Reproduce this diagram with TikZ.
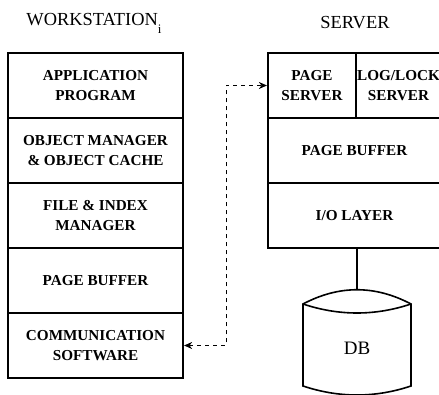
\documentclass[tikz,border=0pt]{standalone}
\usepackage{fontspec}
\setmainfont{Liberation Serif}
\usetikzlibrary{arrows.meta}

\begin{document}
\begin{tikzpicture}[x=0.5pt, y=-0.5pt,
    layer/.style={draw, line width=1.1pt, align=center, inner sep=0pt,
      minimum height=32.5pt, font=\fontsize{7.6}{9.7}\selectfont\bfseries},
    heading/.style={font=\fontsize{9.2}{10}\selectfont},
    link/.style={<->, >={Stealth[length=4pt, width=3.5pt]}, line width=0.5pt,
      dash pattern=on 2pt off 2pt},
    store/.style={line width=0.8pt}]
        \useasboundingbox (0,0) rectangle (439,395);
        \clip (0,0) rectangle (439,395);

        \node[heading] at (94, 23)  (wstitle)   {WORKSTATION\raisebox{-4pt}{\fontsize{6.5}{7}\selectfont i}};
        \node[heading] at (355, 23) (srvtitle)  {SERVER};

        \node[layer, minimum width=87.5pt] at (95.5, 85.5)  (app)    {APPLICATION\\PROGRAM};
        \node[layer, minimum width=87.5pt] at (95.5, 150.5) (objmgr) {OBJECT MANAGER\\\& OBJECT CACHE};
        \node[layer, minimum width=87.5pt] at (95.5, 215.5) (filemgr) {FILE \& INDEX\\MANAGER};
        \node[layer, minimum width=87.5pt] at (95.5, 280.5) (wsbuf)  {PAGE BUFFER};
        \node[layer, minimum width=87.5pt] at (95.5, 345.5) (comm)   {COMMUNICATION\\SOFTWARE};

        \node[layer, minimum width=44pt]   at (312, 85.5)   (pagesrv) {PAGE\\SERVER};
        \node[layer, minimum width=42.5pt] at (398.5, 85.5) (locksrv) {LOG/LOCK\\SERVER};
        \node[layer, minimum width=86.5pt] at (354.5, 150.5) (srvbuf) {PAGE BUFFER};
        \node[layer, minimum width=86.5pt] at (354.5, 215.5) (io)     {I/O LAYER};

        % database
        \coordinate (dbtop) at (357, 290);
        \draw[store] (303,304) .. controls (339,285) and (375,285) .. (411,304)
              -- (411,386) .. controls (375,398) and (339,398) .. (303,386) -- cycle;
        \draw[store] (303,304) .. controls (339,316) and (375,316) .. (411,304);
        \node[font=\fontsize{9.5}{10}\selectfont] at (357, 348) (db) {DB};
        \draw[store] (io.south -| dbtop) -- (dbtop);

        % workstation <-> server
        \coordinate (bend) at (226, 200);
        \draw[link] (comm.east) -| (bend) |- (pagesrv.west);
      \end{tikzpicture}
\end{document}
